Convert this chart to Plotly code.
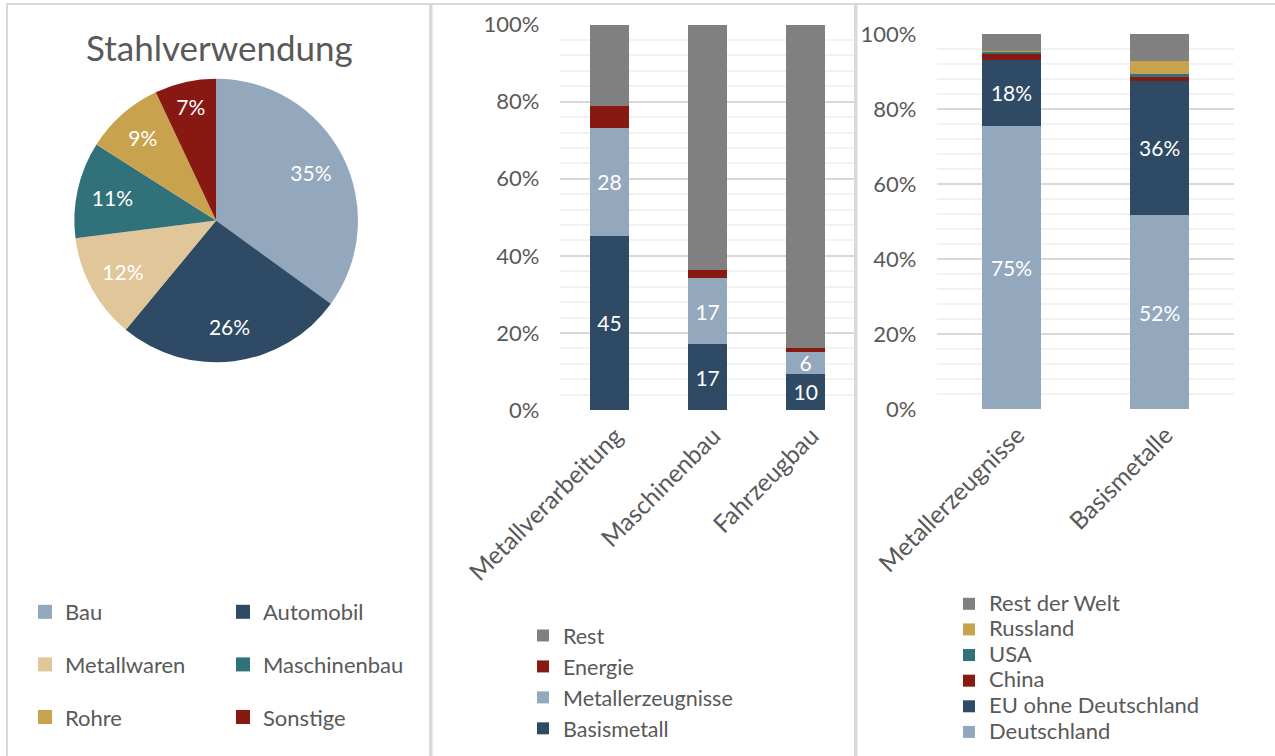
import plotly.graph_objects as go

# ---------------- data ----------------
pie_labels = ["Bau", "Automobil", "Metallwaren", "Maschinenbau", "Rohre", "Sonstige"]
pie_values = [35, 26, 12, 11, 9, 7]

mid_categories = ["Metallverarbeitung", "Maschinenbau", "Fahrzeugbau"]
mid_basismetall = [45, 17, 10]
mid_metallerzeugnisse = [28, 17, 6]
mid_energie = [5.5, 2.0, 1.2]
mid_rest = [21.1, 63.4, 89.2]

right_categories = ["Metallerzeugnisse", "Basismetalle"]
right_deutschland = [75.4, 51.7]
right_eu = [17.8, 35.8]
right_china = [1.5, 1.1]
right_usa = [0.7, 0.8]
right_russland = [0.1, 3.3]
right_rest = [4.5, 7.3]

y_tickvals = [0, 20, 40, 60, 80, 100]
y_ticktext = ["0%", "20%", "40%", "60%", "80%", "100%"]

# ---------------- style ----------------
C_LIGHT = "#93A8BD"
C_NAVY = "#2E4A64"
C_SAND = "#E0C699"
C_TEAL = "#31727A"
C_GOLD = "#C9A24D"
C_RED = "#881812"
C_GREY = "#808080"
TXT = "#595959"
FONT = "Lato"
W, H = 1275, 756

pie_colors = [C_LIGHT, C_NAVY, C_SAND, C_TEAL, C_GOLD, C_RED]


def px(x):
    return x / W


def py(y):
    return 1 - y / H


pie_domain = dict(x=[px(74), px(358.3)], y=[py(362.3), py(78.7)])

fig = go.Figure()

# pie (filled slices)
fig.add_trace(go.Pie(
    labels=pie_labels, values=pie_values, sort=False, direction="clockwise",
    rotation=0, marker=dict(colors=pie_colors, line=dict(width=0)),
    textinfo="none", domain=pie_domain, showlegend=False,
    hoverinfo="label+percent",
))
# pie percentage labels (transparent ring so labels sit at the outer part of slices)
fig.add_trace(go.Pie(
    labels=pie_labels, values=pie_values, sort=False, direction="clockwise",
    rotation=0, hole=0.5,
    marker=dict(colors=["rgba(0,0,0,0)"] * len(pie_labels), line=dict(width=0)),
    textinfo="percent", textposition="inside", insidetextorientation="horizontal",
    textfont=dict(family=FONT, size=21, color="white"),
    domain=pie_domain, showlegend=False, hoverinfo="skip",
))

# pie legend (two columns)
for i, (lab, col) in enumerate(zip(pie_labels, pie_colors)):
    fig.add_trace(go.Scatter(
        x=[None], y=[None], mode="markers", name=lab,
        marker=dict(symbol="square", size=14, color=col, line=dict(width=0)),
        legend="legend" if i % 2 == 0 else "legend2", legendgroup=lab,
        xaxis="x", yaxis="y", hoverinfo="skip",
    ))

# middle stacked bars
mid_series = [
    ("Basismetall", mid_basismetall, C_NAVY, True),
    ("Metallerzeugnisse", mid_metallerzeugnisse, C_LIGHT, True),
    ("Energie", mid_energie, C_RED, False),
    ("Rest", mid_rest, C_GREY, False),
]
for name, vals, col, lab in mid_series:
    fig.add_trace(go.Bar(
        x=mid_categories, y=vals, name=name, marker=dict(color=col, line=dict(width=0)),
        text=vals if lab else None, texttemplate="%{text:.0f}" if lab else None,
        textposition="inside" if lab else "none", insidetextanchor="middle",
        textangle=0, constraintext="none",
        textfont=dict(family=FONT, size=21, color="white"),
        legend="legend3", xaxis="x", yaxis="y",
    ))

# right stacked bars
right_series = [
    ("Deutschland", right_deutschland, C_LIGHT, True),
    ("EU ohne Deutschland", right_eu, C_NAVY, True),
    ("China", right_china, C_RED, False),
    ("USA", right_usa, C_TEAL, False),
    ("Russland", right_russland, C_GOLD, False),
    ("Rest der Welt", right_rest, C_GREY, False),
]
for name, vals, col, lab in right_series:
    fig.add_trace(go.Bar(
        x=right_categories, y=vals,
        name='<span style="font-size:22px">' + name + "</span>",
        marker=dict(color=col, line=dict(width=0)),
        text=vals if lab else None, texttemplate="%{text:.0f}%" if lab else None,
        textposition="inside" if lab else "none", insidetextanchor="middle",
        textangle=0, constraintext="none",
        textfont=dict(family=FONT, size=21, color="white"),
        legend="legend4", xaxis="x2", yaxis="y2",
    ))

yaxis_common = dict(
    range=[0, 100], tickmode="array", tickvals=y_tickvals, ticktext=y_ticktext,
    tickfont=dict(family=FONT, size=22, color=TXT), ticks="", ticklabelstandoff=20,
    showgrid=True, gridcolor="#D9D9D9", gridwidth=1.5, zeroline=False, showline=False,
    minor=dict(dtick=4, showgrid=True, gridcolor="#F2F2F2", gridwidth=1.5),
    fixedrange=True, automargin=False,
)
xaxis_common = dict(
    type="category", tickangle=-45, tickfont=dict(family=FONT, size=24.5, color=TXT),
    showgrid=False, zeroline=False, showline=False, ticks="", fixedrange=True,
    automargin=False, ticklabelstandoff=6, ticklabelshift=6,
)

legend_common = dict(
    bgcolor="rgba(0,0,0,0)", xanchor="left", yanchor="top", orientation="v",
)

fig.update_layout(
    template="none",
    width=W, height=H, margin=dict(l=0, r=0, t=0, b=0, autoexpand=False),
    paper_bgcolor="white", plot_bgcolor="white",
    font=dict(family=FONT, color=TXT),
    barmode="stack", barnorm="percent", bargap=0.6,
    xaxis=dict(domain=[px(560.45), px(854.75)], range=[-0.5, 2.5], anchor="y", **xaxis_common),
    yaxis=dict(domain=[py(410), py(24.6)], anchor="x", **yaxis_common),
    xaxis2=dict(domain=[px(937.4), px(1233.8)], range=[-0.5, 1.5], anchor="y2", **xaxis_common),
    yaxis2=dict(domain=[py(409), py(34)], anchor="x2", **yaxis_common),
    legend=dict(x=px(25), y=py(591), tracegroupgap=21, traceorder="grouped",
                font=dict(family=FONT, size=22, color=TXT), **legend_common),
    legend2=dict(x=px(223), y=py(591), tracegroupgap=21, traceorder="grouped",
                 font=dict(family=FONT, size=22, color=TXT), **legend_common),
    legend3=dict(x=px(523), y=py(615), traceorder="reversed",
                 font=dict(family=FONT, size=21.5, color=TXT), **legend_common),
    legend4=dict(x=px(949), y=py(586), traceorder="reversed",
                 font=dict(family=FONT, size=17.4, color=TXT), **legend_common),
    annotations=[dict(
        text="Stahlverwendung", x=px(219), y=py(47), xref="paper", yref="paper",
        xanchor="center", yanchor="middle", showarrow=False,
        font=dict(family=FONT, size=35, color=TXT),
    )],
    shapes=[
        dict(type="rect", xref="paper", yref="paper", x0=px(7), x1=px(430), y0=-0.02, y1=py(4),
             line=dict(color="#D9D9D9", width=2), fillcolor="rgba(0,0,0,0)"),
        dict(type="rect", xref="paper", yref="paper", x0=px(431.5), x1=px(855), y0=-0.02, y1=py(4),
             line=dict(color="#D9D9D9", width=2), fillcolor="rgba(0,0,0,0)"),
        dict(type="rect", xref="paper", yref="paper", x0=px(856.5), x1=1.02, y0=-0.02, y1=py(4),
             line=dict(color="#D9D9D9", width=2), fillcolor="rgba(0,0,0,0)"),
    ],
    hovermode="closest",
)

fig.write_html(
    "out.html",
    config={"displayModeBar": False},
    post_script="document.body.style.margin='0px';",
)
